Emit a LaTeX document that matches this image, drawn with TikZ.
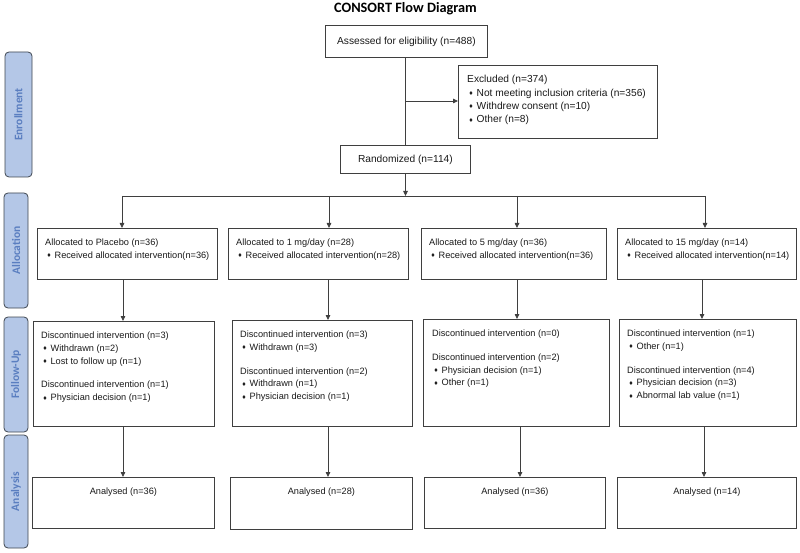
\documentclass[tikz,border=0pt]{standalone}
\usepackage{fontspec}
\setmainfont{Liberation Sans}
\newfontfamily\calib{Carlito}
\newfontfamily\dejavu{DejaVu Sans}
\usetikzlibrary{arrows.meta}
\definecolor{linec}{HTML}{3F3F3F}
\definecolor{sidefill}{HTML}{B4C7E7}
\definecolor{sidetext}{HTML}{5A7EC0}
\definecolor{sidedraw}{HTML}{3F4650}
\newcommand\bul{\hspace*{1.5pt}{\dejavu\fontsize{5.5}{5.5}\selectfont\raisebox{0.6pt}{♦}}\hspace{3pt}}
\begin{document}
\begin{tikzpicture}[x=1pt,y=-1pt,
 box/.style={draw=linec, line width=0.8pt, inner sep=0pt, anchor=north west},
 txt/.style={anchor=north west, inner sep=0pt, align=left, text=black!90, font=\fontsize{9.2}{12.8}\selectfont},
 txtbig/.style={anchor=north west, inner sep=0pt, align=left, text=black!90, font=\fontsize{10.2}{13.3}\selectfont},
 arr/.style={draw=linec, line width=0.8pt, -{Triangle[length=5pt,width=4.5pt]}},
 ln/.style={draw=linec, line width=0.8pt},
 side/.style={draw=sidedraw, fill=sidefill, rounded corners=4pt, line width=0.8pt, rotate=90, font=\calib\bfseries\fontsize{11.5}{12}\selectfont, text=sidetext, inner sep=0pt}
]
\useasboundingbox (0,0) rectangle (800,553);

% title
\node[anchor=base, inner sep=0pt, font=\calib\bfseries\fontsize{14.3}{16}\selectfont] (title) at (405.5,13) {CONSORT Flow Diagram};

% side labels
\node[side, minimum width=125pt, minimum height=27pt] (senr) at (18.5,114.5) {Enrollment};
\node[side, minimum width=115pt, minimum height=24pt] (salloc) at (16,250.5) {Allocation};
\node[side, minimum width=115pt, minimum height=24pt] (sfu) at (16,374.5) {Follow-Up};
\node[side, minimum width=113pt, minimum height=24pt] (san) at (16,491.5) {Analysis};

% enrollment
\node[box, minimum width=162pt, minimum height=32pt, font=\fontsize{10.2}{13.3}\selectfont, text=black!90] (assess) at (325,25) {Assessed for eligibility (n=488)};
\node[box, minimum width=199pt, minimum height=73pt] (excl) at (458,65) {};
\node[txtbig] (excltxt) at ([xshift=9pt,yshift=-8.3pt]excl.north west) {\strut Excluded (n=374)\\ \bul Not meeting inclusion criteria (n=356)\\ \bul Withdrew consent (n=10)\\ \bul Other (n=8)};
\node[box, minimum width=130pt, minimum height=28pt, font=\fontsize{10.2}{13.3}\selectfont, text=black!90] (rand) at (340,145) {Randomized (n=114)};

% allocation
\node[box, minimum width=180pt, minimum height=51pt] (a1) at (37,228) {};
\node[box, minimum width=180pt, minimum height=51pt] (a2) at (228,228) {};
\node[box, minimum width=185pt, minimum height=51pt] (a3) at (421,228) {};
\node[box, minimum width=179pt, minimum height=51pt] (a4) at (617,228) {};
\node[txt] (a1t) at ([xshift=8pt,yshift=-8.3pt]a1.north west) {\strut Allocated to Placebo (n=36)\\ \bul Received allocated intervention(n=36)};
\node[txt] (a2t) at ([xshift=8pt,yshift=-8.3pt]a2.north west) {\strut Allocated to 1 mg/day (n=28)\\ \bul Received allocated intervention(n=28)};
\node[txt] (a3t) at ([xshift=8pt,yshift=-8.3pt]a3.north west) {\strut Allocated to 5 mg/day (n=36)\\ \bul Received allocated intervention(n=36)};
\node[txt] (a4t) at ([xshift=8pt,yshift=-8.3pt]a4.north west) {\strut Allocated to 15 mg/day (n=14)\\ \bul Received allocated intervention(n=14)};

% follow-up
\node[box, minimum width=181pt, minimum height=105pt] (f1) at (33,321) {};
\node[box, minimum width=180pt, minimum height=106pt] (f2) at (232,320) {};
\node[box, minimum width=186pt, minimum height=107pt] (f3) at (423,319) {};
\node[box, minimum width=177pt, minimum height=107pt] (f4) at (619,319) {};
\node[txt] (f1t) at ([xshift=8pt,yshift=-8.3pt]f1.north west) {\strut Discontinued intervention (n=3)\\ \bul Withdrawn (n=2)\\ \bul Lost to follow up (n=1)\\[11pt] Discontinued intervention (n=1)\\ \bul Physician decision (n=1)};
\node[txt] (f2t) at ([xshift=8pt,yshift=-8.3pt]f2.north west) {\strut Discontinued intervention (n=3)\\ \bul Withdrawn (n=3)\\[11pt] Discontinued intervention (n=2)\\ \bul Withdrawn (n=1)\\ \bul Physician decision (n=1)};
\node[txt] (f3t) at ([xshift=9pt,yshift=-8.3pt]f3.north west) {\strut Discontinued intervention (n=0)\\[11pt] Discontinued intervention (n=2)\\ \bul Physician decision (n=1)\\ \bul Other (n=1)};
\node[txt] (f4t) at ([xshift=8pt,yshift=-8.3pt]f4.north west) {\strut Discontinued intervention (n=1)\\ \bul Other (n=1)\\[11pt] Discontinued intervention (n=4)\\ \bul Physician decision (n=3)\\ \bul Abnormal lab value (n=1)};

% analysis
\node[box, minimum width=182pt, minimum height=51pt] (n1) at (32,477) {};
\node[box, minimum width=182pt, minimum height=52pt] (n2) at (230,477) {};
\node[box, minimum width=181pt, minimum height=51pt] (n3) at (424,477) {};
\node[box, minimum width=179pt, minimum height=51pt] (n4) at (617,477) {};
\node[txt, anchor=base] (n1t) at ([yshift=-17.5pt]n1.north) {Analysed (n=36)};
\node[txt, anchor=base] (n2t) at ([yshift=-17.5pt]n2.north) {Analysed (n=28)};
\node[txt, anchor=base] (n3t) at ([yshift=-17.5pt]n3.north) {Analysed (n=36)};
\node[txt, anchor=base] (n4t) at ([yshift=-17.5pt]n4.north) {Analysed (n=14)};

% connectors enrollment
\coordinate (br) at (405.5,101);
\draw[ln] (br |- assess.south) -- (br |- rand.north);
\draw[arr] (br) -- (br -| excl.west);
\coordinate (split) at (405.5,196);
\draw[arr] (split |- rand.south) -- (split);
\coordinate (s1) at (122,196);
\coordinate (s2) at (329,196);
\coordinate (s3) at (517,196);
\coordinate (s4) at (705,196);
\draw[ln] (s1) -- (s4);
\draw[arr] (s1) -- (s1 |- a1.north);
\draw[arr] (s2) -- (s2 |- a2.north);
\draw[arr] (s3) -- (s3 |- a3.north);
\draw[arr] (s4) -- (s4 |- a4.north);

% allocation -> follow-up
\coordinate (b1) at (123,0);
\coordinate (b2) at (328,0);
\coordinate (b3) at (517,0);
\coordinate (b4) at (702,0);
\draw[arr] (b1 |- a1.south) -- (b1 |- f1.north);
\draw[arr] (b2 |- a2.south) -- (b2 |- f2.north);
\draw[arr] (b3 |- a3.south) -- (b3 |- f3.north);
\draw[arr] (b4 |- a4.south) -- (b4 |- f4.north);

% follow-up -> analysis
\coordinate (c1) at (123,0);
\coordinate (c2) at (328,0);
\coordinate (c3) at (520,0);
\coordinate (c4) at (704,0);
\draw[arr] (c1 |- f1.south) -- (c1 |- n1.north);
\draw[arr] (c2 |- f2.south) -- (c2 |- n2.north);
\draw[arr] (c3 |- f3.south) -- (c3 |- n3.north);
\draw[arr] (c4 |- f4.south) -- (c4 |- n4.north);
\end{tikzpicture}
\end{document}
